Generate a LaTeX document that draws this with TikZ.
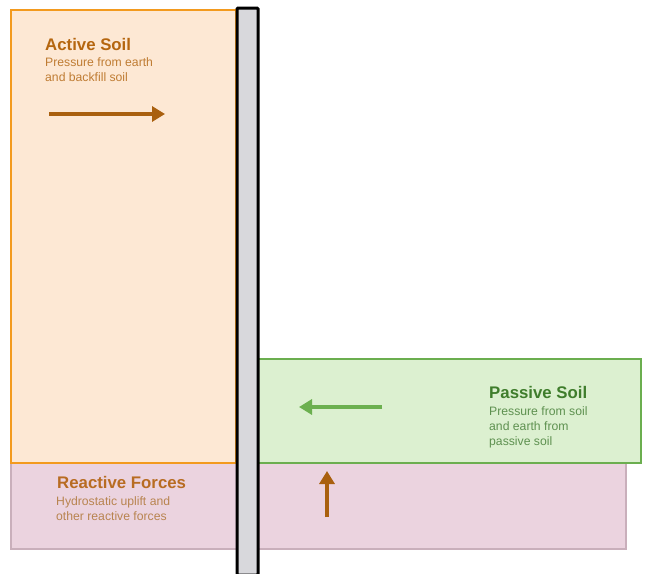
\documentclass[tikz,border=0pt]{standalone}
\usepackage{fontspec}
\setmainfont{Liberation Sans}
\usetikzlibrary{arrows.meta}
\definecolor{actfill}{HTML}{FDE8D4}
\definecolor{actdraw}{HTML}{F39A1E}
\definecolor{pasfill}{HTML}{DCF0D0}
\definecolor{pasdraw}{HTML}{6BAE4F}
\definecolor{reafill}{HTML}{EBD3DF}
\definecolor{readraw}{HTML}{C9AFBB}
\definecolor{wallfill}{HTML}{D8D8DC}
\definecolor{acttitle}{HTML}{B5660F}
\definecolor{acttext}{HTML}{BF7C33}
\definecolor{pastitle}{HTML}{3F7D2C}
\definecolor{pastext}{HTML}{5E9150}
\definecolor{reatitle}{HTML}{B86C22}
\definecolor{reatext}{HTML}{B88450}
\definecolor{brownarrow}{HTML}{A9600F}
\definecolor{greenarrow}{HTML}{6CB04F}
\tikzset{
  ttl/.style={anchor=north west, inner sep=0pt, font=\fontsize{16.8}{18}\selectfont\bfseries, align=left},
  sub/.style={anchor=north west, inner sep=0pt, font=\fontsize{12.2}{15.2}\selectfont, align=left},
  force/.style={line width=3.2pt, -{Triangle[length=13pt,width=15pt]}},
}
\begin{document}
\begin{tikzpicture}[x=1pt,y=-1pt]
\useasboundingbox (0,0) rectangle (661,573);
\fill[white] (0,0) rectangle (661,573);
% reactive
\draw[fill=reafill, draw=readraw, line width=1.2pt] (11,463) rectangle (626,549);
% active
\draw[fill=actfill, draw=actdraw, line width=2.2pt] (11,10) rectangle (236,463);
% passive
\draw[fill=pasfill, draw=pasdraw, line width=2.2pt] (258,359) rectangle (641,463);
% wall
\draw[fill=wallfill, draw=black, line width=3pt, rounded corners=1pt] (237,8) rectangle (258,575);

% Active texts
\node[ttl, text=acttitle] (at) at (45,38) {Active Soil};
\node[sub, text=acttext] (as) at (45,57) {Pressure from earth\\and backfill soil};
\coordinate (a1) at (49,114);
\coordinate (a2) at (165,114);
\draw[force, draw=brownarrow] (a1) -- (a2);

% Passive texts
\node[ttl, text=pastitle] (pt) at (489,386) {Passive Soil};
\node[sub, text=pastext] (ps) at (489,406) {Pressure from soil\\and earth from\\passive soil};
\coordinate (p1) at (382,407);
\coordinate (p2) at (299,407);
\draw[force, draw=greenarrow] (p1) -- (p2);

% Reactive texts
\node[ttl, text=reatitle] (rt) at (57,476) {Reactive Forces};
\node[sub, text=reatext] (rs) at (56,496) {Hydrostatic uplift and\\other reactive forces};
\coordinate (r1) at (327,517);
\coordinate (r2) at (327,471);
\draw[force, draw=brownarrow] (r1) -- (r2);
\end{tikzpicture}
\end{document}
